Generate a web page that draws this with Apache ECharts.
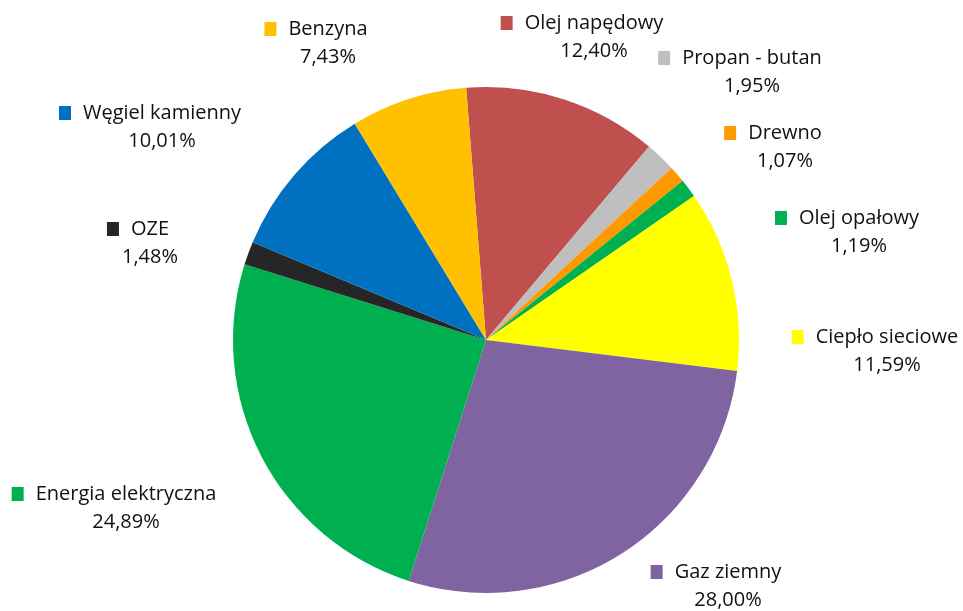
<!DOCTYPE html>
<html>
<head>
<meta charset="utf-8">
<script src="https://cdn.jsdelivr.net/npm/echarts@6/dist/echarts.min.js"></script>
<style>html,body{margin:0;padding:0;background:#fff;}#chart{width:963px;height:611px;}</style>
</head>
<body>
<div id="chart"></div>
<script>
const categories = ['Olej napędowy','Propan - butan','Drewno','Olej opałowy','Ciepło sieciowe','Gaz ziemny','Energia elektryczna','OZE','Węgiel kamienny','Benzyna'];
const values = [12.40, 1.95, 1.07, 1.19, 11.59, 28.00, 24.89, 1.48, 10.01, 7.43];
const valueLabels = ['12,40%','1,95%','1,07%','1,19%','11,59%','28,00%','24,89%','1,48%','10,01%','7,43%'];
const colors = ['#C0504D','#BFBFBF','#FF9900','#00B050','#FFFF00','#8064A2','#00B050','#262626','#0070C0','#FFC000'];
const labelPos = [[582,37],[740,72],[773,147],[847,232],[875,351],[716,586],[114,508],[138,243],[150,127],[316,43]];

const chart = echarts.init(document.getElementById('chart'));
const rich = {
  n: {fontSize: 20, color: '#111', fontFamily: 'Open Sans', lineHeight: 28, padding: [0,0,0,12]},
  v: {fontSize: 20, color: '#111', fontFamily: 'Open Sans', lineHeight: 28, padding: [0,0,0,24]}
};
colors.forEach((c, i) => { rich['s' + i] = {width: 12, height: 12, backgroundColor: c, padding: [0,0,2,0]}; });
chart.setOption({
  animation: false,
  series: [{
    type: 'pie',
    center: [486, 340],
    radius: 253,
    startAngle: 94.5,
    clockwise: true,
    data: categories.map((n, i) => ({name: n, value: values[i], itemStyle: {color: colors[i]}})),
    label: {
      show: true,
      position: 'outside',
      formatter: p => '{s' + p.dataIndex + '|}{n|' + p.name + '}\n{v|' + valueLabels[p.dataIndex] + '}',
      rich: rich,
      align: 'center'
    },
    labelLine: {show: false},
    labelLayout: p => ({x: labelPos[p.dataIndex][0], y: labelPos[p.dataIndex][1], align: 'center', verticalAlign: 'middle'})
  }]
});
</script>
</body>
</html>
